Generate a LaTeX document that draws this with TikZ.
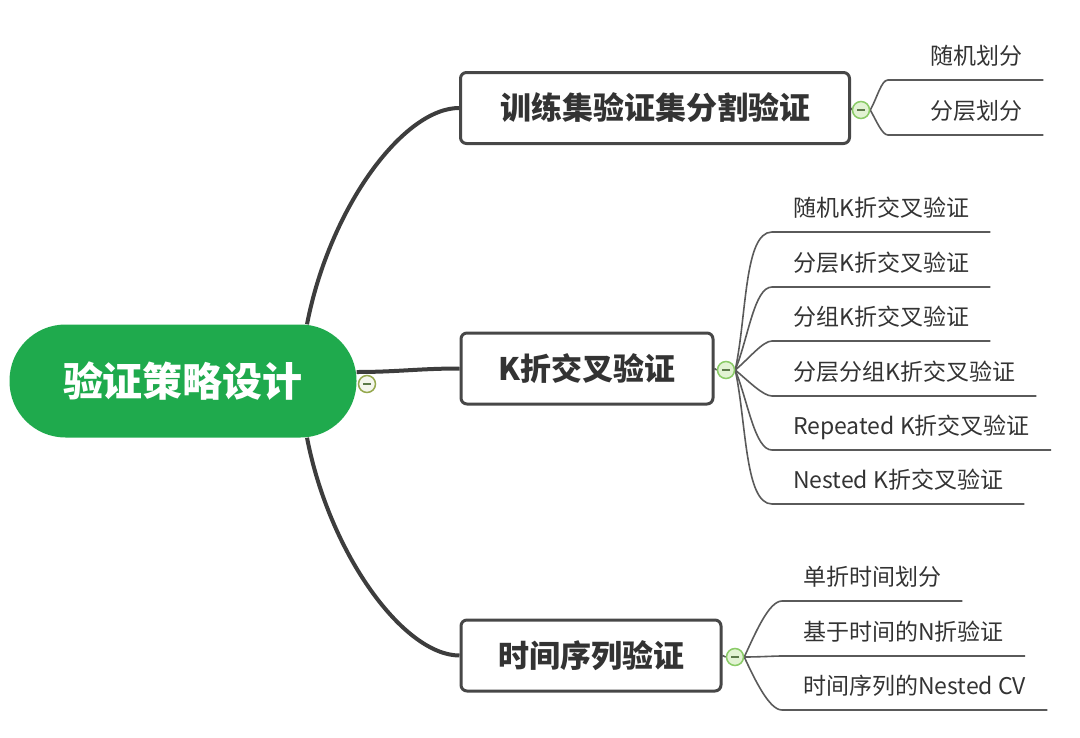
\documentclass[tikz,border=0pt]{standalone}
\usepackage{fontspec}
\setmainfont{Noto Sans CJK SC}
\usetikzlibrary{backgrounds}
\definecolor{rootgreen}{HTML}{1FAA4D}
\definecolor{linegray}{HTML}{3D3D3D}
\definecolor{boxgray}{HTML}{474747}
\definecolor{leafgray}{HTML}{5A5A5A}
\definecolor{textgray}{HTML}{333333}
\definecolor{knobfill}{HTML}{E2F3D3}
\definecolor{knobdraw}{HTML}{8ACB67}
\definecolor{knobminus}{HTML}{5C7A4A}
\definecolor{rootknob}{HTML}{95A84E}
\tikzset{
  rootnode/.style={fill=rootgreen, rounded corners=56pt, minimum width=347pt,
    minimum height=113pt, text=white, font=\bfseries\fontsize{40}{48}\selectfont},
  topic/.style={draw=boxgray, line width=3pt, rounded corners=6pt, minimum height=71pt,
    text=textgray, font=\bfseries\fontsize{31}{37}\selectfont},
  knob/.style={circle, minimum size=17pt, inner sep=0pt, fill=knobfill, draw=knobdraw,
    line width=1.5pt, path picture={\draw[knobminus, line width=1.5pt]
      ([xshift=-4pt]path picture bounding box.center) --
      ([xshift=4pt]path picture bounding box.center);}},
  leaf/.style={anchor=south west, inner xsep=21pt, inner ysep=15.5pt, text height=16pt,
    text depth=0pt, text=textgray, font=\fontsize{23}{28}\selectfont},
  mainline/.style={draw=linegray, line width=4pt},
  leafline/.style={draw=leafgray, line width=1.6pt},
  bend/.style={out=#1, in=180, in looseness=0.5}
}
\begin{document}
\begin{tikzpicture}[x=1pt, y=-1pt]
  \useasboundingbox (0,0) rectangle (1080,737);
  % root and topics
  \node[rootnode] (root) at (183,381) {验证策略设计};
  \node[topic, minimum width=389pt] (b1) at (655,108) {训练集验证集分割验证};
  \node[topic, minimum width=252pt] (b2) at (587,368.5) {K折交叉验证};
  \node[topic, minimum width=260pt] (b3) at (591,655.5) {时间序列验证};
  % collapse knobs
  \node[knob, fill=white!90!rootknob, draw=rootknob] (kr) at (367,384) {};
  \node[knob] (k1) at (861,110) {};
  \node[knob] (k2) at (726,370) {};
  \node[knob] (k3) at (735,657) {};
  % leaves
  \node[leaf] (l11) at (909,80) {随机划分};
  \node[leaf] (l12) at (909,135) {分层划分};
  \node[leaf] (l21) at (772,232) {随机K折交叉验证};
  \node[leaf] (l22) at (772,287) {分层K折交叉验证};
  \node[leaf] (l23) at (772,341) {分组K折交叉验证};
  \node[leaf] (l24) at (772,396) {分层分组K折交叉验证};
  \node[leaf] (l25) at (772,450) {Repeated K折交叉验证};
  \node[leaf] (l26) at (772,504) {Nested K折交叉验证};
  \node[leaf] (l31) at (782,601) {单折时间划分};
  \node[leaf] (l32) at (782,656) {基于时间的N折验证};
  \node[leaf] (l33) at (782,710) {时间序列的Nested CV};
  \begin{scope}[on background layer]
    \draw[mainline] ([xshift=124pt]root.north) .. controls +(23,-118) and +(-55,0) .. (b1.west);
    \draw[mainline] ([yshift=9pt]root.east) to[out=0, in=180] (b2.west);
    \draw[mainline] ([xshift=124pt]root.south) .. controls +(23,118) and +(-55,0) .. (b3.west);
    \draw[leafline] (b1.east) -- (k1.west);
    \draw[leafline] (b2.east) -- (k2.west);
    \draw[leafline] (b3.east) -- (k3.west);
    \draw[leafline] (k1.east) to[bend=60] ([xshift=-21pt]l11.south west) -- (l11.south east);
    \draw[leafline] (k1.east) to[bend=-60] ([xshift=-21pt]l12.south west) -- (l12.south east);
    \draw[leafline] (k2.east) to[bend=78] (l21.south west) -- (l21.south east);
    \draw[leafline] (k2.east) to[bend=68] (l22.south west) -- (l22.south east);
    \draw[leafline] (k2.east) to[bend=40] (l23.south west) -- (l23.south east);
    \draw[leafline] (k2.east) to[bend=-40] (l24.south west) -- (l24.south east);
    \draw[leafline] (k2.east) to[bend=-68] (l25.south west) -- (l25.south east);
    \draw[leafline] (k2.east) to[bend=-78] (l26.south west) -- (l26.south east);
    \draw[leafline] (k3.east) to[bend=65] (l31.south west) -- (l31.south east);
    \draw[leafline] (k3.east) to[bend=0] (l32.south west) -- (l32.south east);
    \draw[leafline] (k3.east) to[bend=-65] (l33.south west) -- (l33.south east);
  \end{scope}
\end{tikzpicture}
\end{document}
